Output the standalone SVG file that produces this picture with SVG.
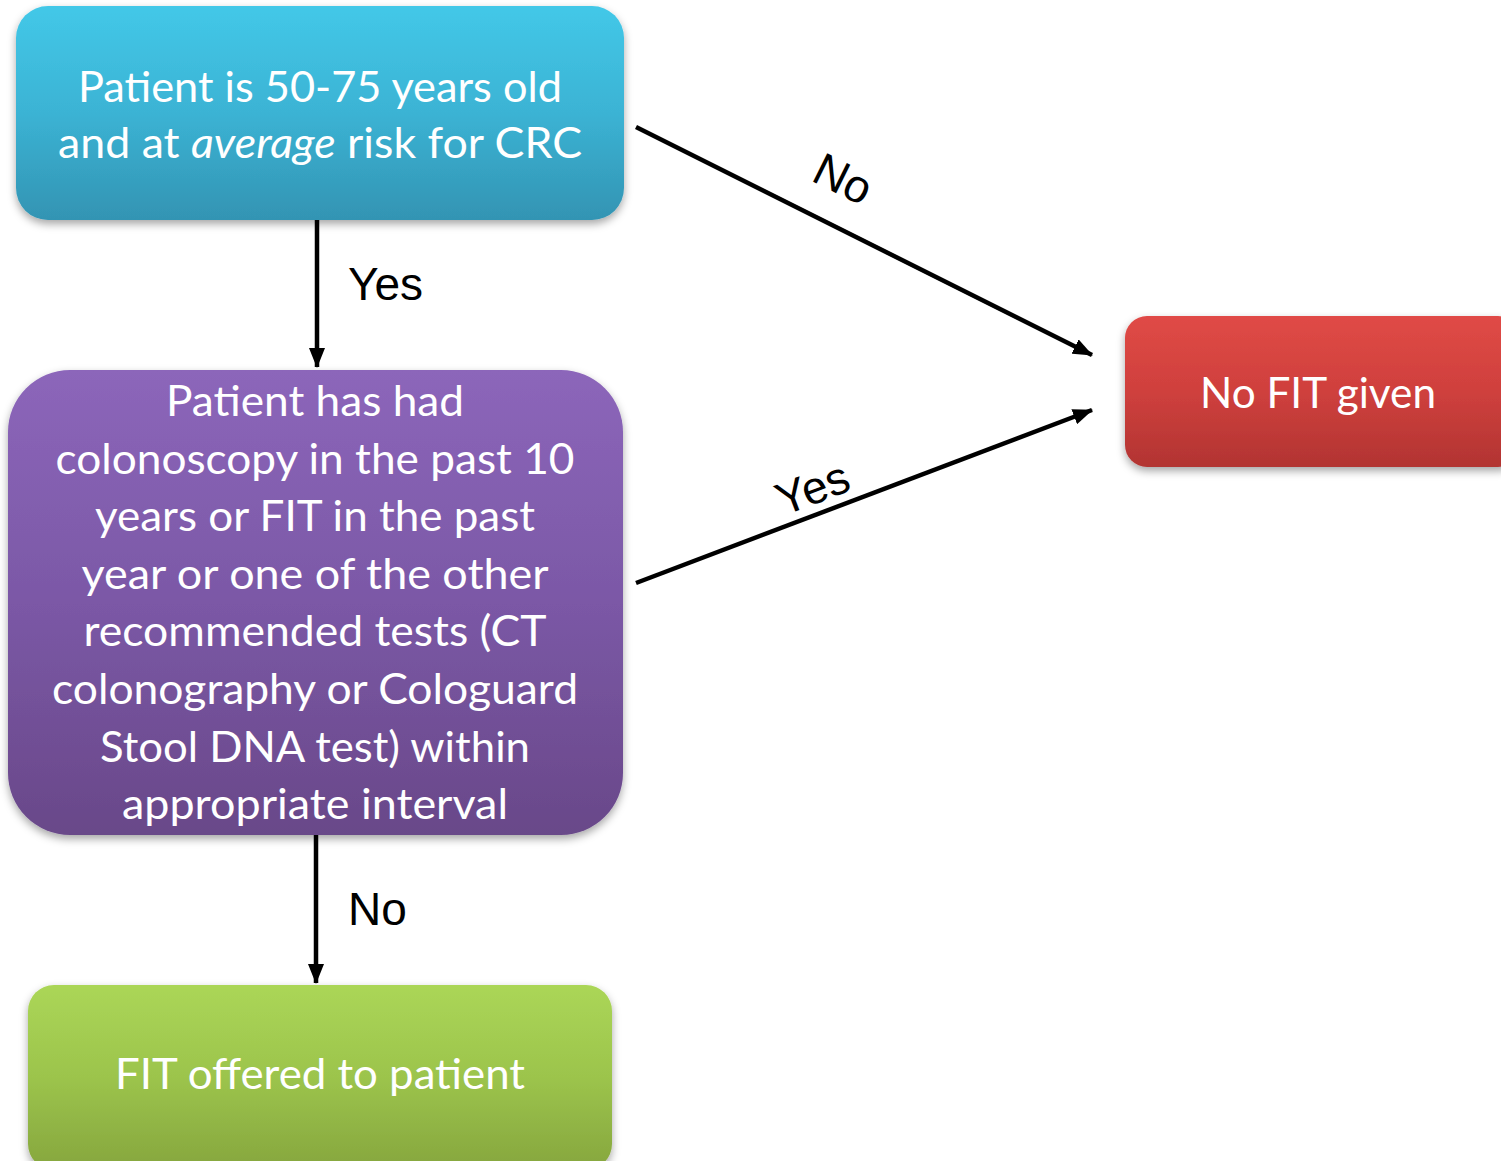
<svg xmlns="http://www.w3.org/2000/svg" width="1501" height="1161" viewBox="0 0 1501 1161">
<defs>
<linearGradient id="gBlue" x1="0" y1="0" x2="0" y2="1"><stop offset="0" stop-color="#43C8E8"/><stop offset="0.5" stop-color="#3BB3D4"/><stop offset="1" stop-color="#3394B3"/></linearGradient>
<linearGradient id="gPurple" x1="0" y1="0" x2="0" y2="1"><stop offset="0" stop-color="#8C66BA"/><stop offset="0.5" stop-color="#7B58A6"/><stop offset="1" stop-color="#694889"/></linearGradient>
<linearGradient id="gRed" x1="0" y1="0" x2="0" y2="1"><stop offset="0" stop-color="#E04A46"/><stop offset="0.5" stop-color="#CF403D"/><stop offset="1" stop-color="#B23432"/></linearGradient>
<linearGradient id="gGreen" x1="0" y1="0" x2="0" y2="1"><stop offset="0" stop-color="#ABD657"/><stop offset="0.5" stop-color="#9CC44C"/><stop offset="1" stop-color="#86A63E"/></linearGradient>
<filter id="shadow" x="-10%" y="-10%" width="120%" height="130%"><feDropShadow dx="0" dy="4" stdDeviation="4" flood-color="#000" flood-opacity="0.35"/></filter>
<marker id="arrow" viewBox="0 0 20 16" refX="19" refY="8" markerWidth="20" markerHeight="16" orient="auto" markerUnits="userSpaceOnUse"><path d="M0,0 L20,8 L0,16 z" fill="#000"/></marker>
<style>
.box{filter:url(#shadow);}
.nt{font-family:Lato,"Open Sans","Liberation Sans",sans-serif;font-size:42px;fill:#fff;text-anchor:middle;}
.lbl{font-family:"Liberation Sans",Arial,sans-serif;font-size:46px;fill:#000;}
.conn{stroke:#000;stroke-width:4.5;fill:none;marker-end:url(#arrow);}
</style>
</defs>
<g id="connectors">
<line class="conn" x1="317" y1="220" x2="317" y2="367"/>
<line class="conn" x1="636" y1="127" x2="1092" y2="355"/>
<line class="conn" x1="636" y1="583" x2="1092" y2="410"/>
<line class="conn" x1="316" y1="835" x2="316" y2="983"/>
<text class="lbl" x="348" y="300">Yes</text>
<text class="lbl" x="348" y="925">No</text>
<text class="lbl" text-anchor="middle" transform="translate(836,193) rotate(26.5)">No</text>
<text class="lbl" text-anchor="middle" transform="translate(818,503) rotate(-20.7)">Yes</text>
</g>
<g id="node-age">
<rect class="box" x="16" y="6" width="608" height="214" rx="32" fill="url(#gBlue)"/>
<text class="nt" x="320" y="102" textLength="484" lengthAdjust="spacingAndGlyphs">Patient is 50-75 years old</text>
<text class="nt" x="320" y="158" textLength="524" lengthAdjust="spacingAndGlyphs">and at <tspan font-style="italic">average</tspan> risk for CRC</text>
</g>
<g id="node-history">
<rect class="box" x="8" y="370" width="615" height="465" rx="62" fill="url(#gPurple)"/>
<text class="nt" x="315" y="416" textLength="298" lengthAdjust="spacingAndGlyphs">Patient has had</text>
<text class="nt" x="315" y="474" textLength="519" lengthAdjust="spacingAndGlyphs">colonoscopy in the past 10</text>
<text class="nt" x="315" y="531" textLength="440" lengthAdjust="spacingAndGlyphs">years or FIT in the past</text>
<text class="nt" x="315" y="589" textLength="467" lengthAdjust="spacingAndGlyphs">year or one of the other</text>
<text class="nt" x="315" y="646" textLength="463" lengthAdjust="spacingAndGlyphs">recommended tests (CT</text>
<text class="nt" x="315" y="704" textLength="526" lengthAdjust="spacingAndGlyphs">colonography or Cologuard</text>
<text class="nt" x="315" y="762" textLength="430" lengthAdjust="spacingAndGlyphs">Stool DNA test) within</text>
<text class="nt" x="315" y="819" textLength="386" lengthAdjust="spacingAndGlyphs">appropriate interval</text>
</g>
<g id="node-nofit">
<rect class="box" x="1125" y="316" width="395" height="151" rx="22" fill="url(#gRed)"/>
<text class="nt" x="1318" y="408" textLength="236" lengthAdjust="spacingAndGlyphs">No FIT given</text>
</g>
<g id="node-fit">
<rect class="box" x="28" y="985" width="584" height="185" rx="26" fill="url(#gGreen)"/>
<text class="nt" x="320" y="1089" textLength="410" lengthAdjust="spacingAndGlyphs">FIT offered to patient</text>
</g>
</svg>
